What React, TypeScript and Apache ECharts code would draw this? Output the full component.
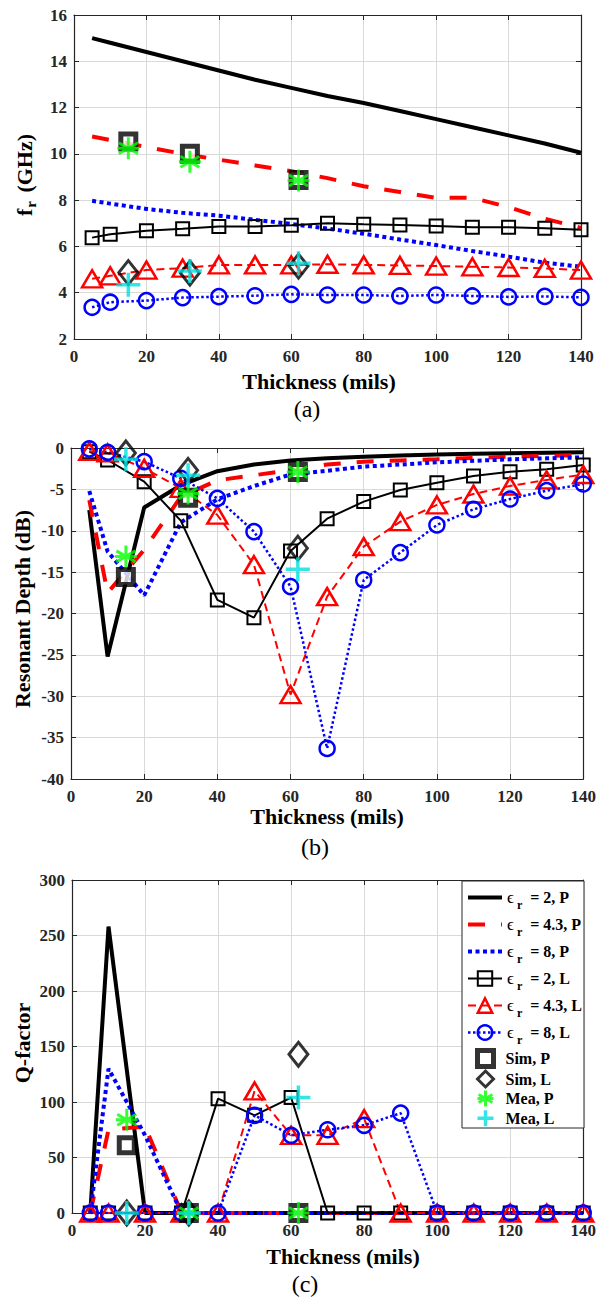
import React, { useEffect, useRef } from "react";
import * as echarts from "echarts";

// ---------------- data ----------------
const thickness = [5, 10, 20, 30, 40, 50, 60, 70, 80, 90, 100, 110, 120, 130, 140];
const measX = [15, 32, 62];

// (a) resonant frequency (GHz)
const frP2 = [15.0, 14.8, 14.4, 14.0, 13.6, 13.2, 12.85, 12.5, 12.2, 11.85, 11.5, 11.15, 10.8, 10.45, 10.05];
const frP43 = [10.75, 10.6, 10.3, 10.0, 9.75, 9.5, 9.25, 8.95, 8.6, 8.35, 8.1, 8.1, 7.7, 7.2, 6.8];
const frP8 = [7.97, 7.85, 7.62, 7.45, 7.33, 7.15, 6.97, 6.77, 6.55, 6.3, 6.06, 5.8, 5.56, 5.3, 5.12];
const frL2 = [6.38, 6.53, 6.68, 6.76, 6.86, 6.86, 6.92, 7.0, 6.96, 6.93, 6.88, 6.83, 6.83, 6.79, 6.72];
const frL43 = [4.6, 4.73, 4.98, 5.06, 5.2, 5.2, 5.2, 5.23, 5.2, 5.18, 5.15, 5.12, 5.09, 5.05, 4.98];
const frL8 = [3.37, 3.59, 3.66, 3.79, 3.83, 3.87, 3.93, 3.9, 3.9, 3.86, 3.9, 3.86, 3.82, 3.84, 3.8];
const frSimP = [10.53, 10.0, 8.87];
const frSimL = [4.87, 4.85, 5.15];
const frMeaP = [10.24, 9.66, 8.85];
const frMeaL = [4.34, 4.94, 5.27];

// (b) resonant depth (dB)
const rdP2 = [-7.5, -25.2, -7.2, -4.5, -2.8, -2.0, -1.5, -1.25, -1.05, -0.9, -0.78, -0.7, -0.62, -0.57, -0.52];
const rdP43 = [-6.3, -17.5, -12.3, -5.9, -3.9, -3.3, -2.65, -2.0, -1.65, -1.5, -1.37, -1.2, -1.05, -0.95, -0.85];
const rdP8 = [-5.2, -12.5, -17.8, -9.0, -6.2, -4.6, -3.2, -2.75, -2.25, -2.0, -1.73, -1.55, -1.37, -1.25, -1.13];
const rdL2 = [-0.44, -1.45, -4.07, -8.78, -18.36, -20.5, -12.44, -8.54, -6.48, -5.07, -4.19, -3.38, -2.86, -2.57, -2.05];
const rdL43 = [-0.4, -0.6, -2.45, -4.87, -8.1, -14.1, -29.8, -17.96, -11.92, -8.9, -6.88, -5.56, -4.59, -3.86, -3.2];
const rdL8 = [-0.1, -0.52, -1.65, -3.66, -6.08, -10.1, -16.75, -36.3, -15.94, -12.64, -9.3, -7.41, -6.16, -5.15, -4.35];
const rdSimP = [-15.6, -6.0, -2.9];
const rdSimL = [-0.6, -2.7, -12.1];
const rdMeaP = [-13.1, -5.5, -2.9];
const rdMeaL = [-1.37, -3.3, -14.65];

// (c) Q-factor
const qP2 = [0, 258, 0, 0, 0, 0, 0, 0, 0, 0, 0, 0, 0, 0, 0];
const qP43 = [0, 75, 78, 0, 0, 0, 0, 0, 0, 0, 0, 0, 0, 0, 0];
const qP8 = [0, 130, 70, 0, 0, 0, 0, 0, 0, 0, 0, 0, 0, 0, 0];
const qL2 = [0, 0, 0, 0, 103, 88, 104, 0, 0, 0, 0, 0, 0, 0, 0];
const qL43 = [0, 0, 0, 0, 0, 110, 70, 70, 85, 0, 0, 0, 0, 0, 0];
const qL8 = [0, 0, 0, 0, 0, 88, 70, 75, 79, 90, 0, 0, 0, 0, 0];
const qSimP = [61, 0, 0];
const qSimL = [0, 0, 143];
const qMeaP = [84, 0, 0];
const qMeaL = [0, 0, 104];

const yRanges = [
  { min: 2, max: 16, interval: 2 },
  { min: -40, max: 0, interval: 5 },
  { min: 0, max: 300, interval: 50 },
];

// ---------------- styling ----------------
const FONT = "'Liberation Serif', 'Times New Roman', serif";
const AX = "#262626";
const CYAN = "#00e0e0";
const ASTERISK = "path://M0,-10L0,10M-8.66,-5L8.66,5M-8.66,5L8.66,-5M-10,0L10,0";
const PLUS = "path://M0,-10L0,10M-10,0L10,0";

const grids = [
  { left: 74, top: 15, width: 507, height: 324 },
  { left: 71, top: 448, width: 514, height: 331 },
  { left: 72, top: 880, width: 512, height: 333 },
];

const panels = [
  { P2: frP2, P43: frP43, P8: frP8, L2: frL2, L43: frL43, L8: frL8, SimP: frSimP, SimL: frSimL, MeaP: frMeaP, MeaL: frMeaL },
  { P2: rdP2, P43: rdP43, P8: rdP8, L2: rdL2, L43: rdL43, L8: rdL8, SimP: rdSimP, SimL: rdSimL, MeaP: rdMeaP, MeaL: rdMeaL },
  { P2: qP2, P43: qP43, P8: qP8, L2: qL2, L43: qL43, L8: qL8, SimP: qSimP, SimL: qSimL, MeaP: qMeaP, MeaL: qMeaL },
];

const legendLabel: Record<string, string> = {
  P2: "{e|ϵ}{s|r}{t| = 2, P}",
  P43: "{e|ϵ}{s|r}{t| = 4.3, P}",
  P8: "{e|ϵ}{s|r}{t| = 8, P}",
  L2: "{e|ϵ}{s|r}{t| = 2, L}",
  L43: "{e|ϵ}{s|r}{t| = 4.3, L}",
  L8: "{e|ϵ}{s|r}{t| = 8, L}",
  SimP: "{u|Sim, P}",
  SimL: "{u|Sim, L}",
  MeaP: "{u|Mea, P}",
  MeaL: "{u|Mea, L}",
};

function pairs(xs: number[], ys: number[]) {
  return xs.map((x, i) => [x, ys[i]]);
}

const hiddenSym = { symbol: "circle", showSymbol: false, itemStyle: { color: "transparent", borderColor: "transparent", borderWidth: 0 } };

function buildSeries(): any[] {
  const out: any[] = [];
  panels.forEach((p, gi) => {
    const base = { xAxisIndex: gi, yAxisIndex: gi, silent: true, animation: false };
    out.push({ ...base, ...hiddenSym, type: "line", name: "P2", data: pairs(thickness, p.P2), z: 2,
      lineStyle: { color: "#000", width: 4 } });
    out.push({ ...base, ...hiddenSym, type: "line", name: "P43", data: pairs(thickness, p.P43), z: 2,
      lineStyle: { color: "#ff0000", width: 4, type: [17, 16] } });
    out.push({ ...base, ...hiddenSym, type: "line", name: "P8", data: pairs(thickness, p.P8), z: 2,
      lineStyle: { color: "#0000ff", width: 4, type: [4, 3.5] } });
    out.push({ ...base, type: "line", name: "L2", data: pairs(thickness, p.L2), symbol: "rect", symbolSize: 13, z: 3,
      lineStyle: { color: "#000", width: 2 }, itemStyle: { color: "transparent", borderColor: "#000", borderWidth: 2 } });
    out.push({ ...base, type: "line", name: "L43", data: pairs(thickness, p.L43), symbol: "triangle", symbolSize: [20, 17], z: 3,
      lineStyle: { color: "#ff0000", width: 2, type: [8, 5] }, itemStyle: { color: "transparent", borderColor: "#ff0000", borderWidth: 2.5 } });
    out.push({ ...base, type: "line", name: "L8", data: pairs(thickness, p.L8), symbol: "circle", symbolSize: 15, z: 3,
      lineStyle: { color: "#0000ff", width: 2.5, type: [2.5, 2.5] }, itemStyle: { color: "transparent", borderColor: "#0000ff", borderWidth: 2.5 } });
    out.push({ ...base, type: "scatter", name: "SimP", data: pairs(measX, p.SimP), symbol: "rect", symbolSize: 15, z: 4,
      itemStyle: { color: "#fff", borderColor: "#000", borderWidth: 5 } });
    out.push({ ...base, type: "scatter", name: "SimL", data: pairs(measX, p.SimL), symbol: "diamond", symbolSize: [19, 24], z: 5,
      itemStyle: { color: "transparent", borderColor: "#000", borderWidth: 3 } });
    out.push({ ...base, type: "scatter", name: "MeaP", data: pairs(measX, p.MeaP), symbol: ASTERISK, symbolSize: 22, z: 6,
      itemStyle: { color: "transparent", borderColor: "#00ff00", borderWidth: 3 } });
    out.push({ ...base, type: "scatter", name: "MeaL", data: pairs(measX, p.MeaL), symbol: PLUS, symbolSize: 24, z: 7,
      itemStyle: { color: "transparent", borderColor: CYAN, borderWidth: 3.5 } });
  });
  return out;
}

function axisText(text: string, x: number, y: number, rotate = false, rich?: any) {
  return {
    type: "text",
    x,
    y,
    rotation: rotate ? Math.PI / 2 : 0,
    z: 10,
    style: {
      text,
      x: 0,
      y: 0,
      align: "center",
      verticalAlign: "middle",
      font: `bold 22px ${FONT}`,
      fill: "#000",
      rich,
    },
  };
}

function panelLabel(text: string, x: number, y: number) {
  return {
    type: "text",
    x,
    y,
    z: 10,
    style: { text, x: 0, y: 0, align: "center", verticalAlign: "middle", font: `24px ${FONT}`, fill: "#000" },
  };
}

function buildOption(): any {
  const xAxes: any[] = [];
  const yAxes: any[] = [];
  grids.forEach((_, gi) => {
    xAxes.push({
      type: "value", gridIndex: gi, min: 0, max: 140, interval: 20, position: "bottom",
      axisLine: { show: true, onZero: false, lineStyle: { color: AX, width: 1.2 } },
      axisTick: { show: true, inside: true, length: 5, lineStyle: { color: AX } },
      axisLabel: { color: AX, fontFamily: FONT, fontWeight: "bold", fontSize: 17, margin: 9 },
      splitLine: { show: true, lineStyle: { color: "#d9d9d9", width: 1 } },
    });
    yAxes.push({
      type: "value", gridIndex: gi, ...yRanges[gi], position: "left",
      axisLine: { show: true, onZero: false, lineStyle: { color: AX, width: 1.2 } },
      axisTick: { show: true, inside: true, length: 5, lineStyle: { color: AX } },
      axisLabel: { color: AX, fontFamily: FONT, fontWeight: "bold", fontSize: 17, margin: 7 },
      splitLine: { show: true, lineStyle: { color: "#d9d9d9", width: 1 } },
    });
  });
  grids.forEach((_, gi) => {
    xAxes.push({
      type: "value", gridIndex: gi, min: 0, max: 140, interval: 20, position: "top",
      axisLine: { show: true, onZero: false, lineStyle: { color: AX, width: 1.2 } },
      axisTick: { show: true, inside: true, length: 5, lineStyle: { color: AX } },
      axisLabel: { show: false }, splitLine: { show: false },
    });
    yAxes.push({
      type: "value", gridIndex: gi, ...yRanges[gi], position: "right",
      axisLine: { show: true, onZero: false, lineStyle: { color: AX, width: 1.2 } },
      axisTick: { show: true, inside: true, length: 5, lineStyle: { color: AX } },
      axisLabel: { show: false }, splitLine: { show: false },
    });
  });

  const rich = {
    e: { fontFamily: FONT, fontSize: 17, fontWeight: "normal", color: "#000" },
    s: { fontFamily: FONT, fontSize: 12, fontWeight: "bold", color: "#000", padding: [14, 4, 0, 3] },
    t: { fontFamily: FONT, fontSize: 16, fontWeight: "bold", color: "#000" },
    u: { fontFamily: FONT, fontSize: 16, fontWeight: "bold", color: "#000", lineHeight: 16, padding: [0, 0, 0, 7] },
  };

  const legendCommon = {
    orient: "vertical",
    selectedMode: false,
    padding: 0,
    z: 20,
    formatter: (n: string) => legendLabel[n],
    textStyle: { rich },
    itemStyle: { borderWidth: "inherit" },
    lineStyle: { width: "inherit" },
  };

  return {
    animation: false,
    backgroundColor: "#fff",
    grid: grids.map((g) => ({ ...g, containLabel: false })),
    xAxis: xAxes,
    yAxis: yAxes,
    legend: [
      {
        ...legendCommon,
        data: ["P2", "P43", "P8", "L2", "L43", "L8"],
        left: 466, top: 889, itemWidth: 34, itemHeight: 18, itemGap: 5.5,
      },
      {
        ...legendCommon,
        data: ["SimP", "SimL", "MeaP", "MeaL"],
        left: 475, top: 1048, itemWidth: 16, itemHeight: 16, itemGap: 0.5,
      },
    ],
    graphic: [
      { type: "rect", z: 15, shape: { x: 462, y: 881, width: 122, height: 247 }, style: { fill: "#fff", stroke: AX, lineWidth: 1 } },
      axisText("{f|f}{s|r}{g| (GHz)}", 24, 175, true, {
        f: { font: `bold 22px ${FONT}` },
        s: { font: `bold 15px ${FONT}`, padding: [14, 3, 0, 1] },
        g: { font: `bold 22px ${FONT}` },
      }),
      axisText("Resonant Depth (dB)", 22, 609, true),
      axisText("Q-factor", 22, 1043, true),
      axisText("Thickness (mils)", 319, 381),
      axisText("Thickness (mils)", 327, 816),
      axisText("Thickness (mils)", 343, 1256),
      panelLabel("(a)", 307, 409),
      panelLabel("(b)", 315, 847),
      panelLabel("(c)", 305, 1284),
    ],
    series: buildSeries(),
  };
}

export default function App() {
  const ref = useRef<HTMLDivElement>(null);
  useEffect(() => {
    if (!ref.current) return;
    const chart = echarts.init(ref.current, null, { renderer: "svg" });
    chart.setOption(buildOption());
    return () => chart.dispose();
  }, []);
  return (
    <div
      ref={ref}
      style={{ position: "absolute", left: 0, top: 0, width: 599, height: 1298, background: "#fff" }}
    />
  );
}
